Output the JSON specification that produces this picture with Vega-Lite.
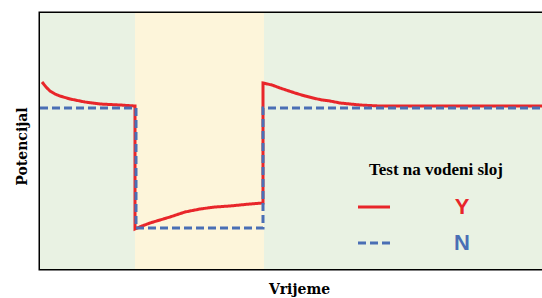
{
  "$schema": "https://vega.github.io/schema/vega-lite/v6.json",
  "autosize": {"type": "none"},
  "padding": {"left": 40, "top": 13, "right": 0, "bottom": 29},
  "width": 504,
  "height": 256,
  "background": "white",
  "config": {
    "view": {"stroke": "black", "strokeWidth": 3},
    "axis": {"grid": false, "ticks": false, "labels": false, "domain": false}
  },
  "datasets": {
    "bands": [
      {"start": 0, "end": 95, "phase": "green"},
      {"start": 95, "end": 224, "phase": "yellow"},
      {"start": 224, "end": 504, "phase": "green"}
    ],
    "lines": [
      {"series": "Y", "i": 1, "t": 2, "v": 187},
      {"series": "Y", "i": 2, "t": 6, "v": 182},
      {"series": "Y", "i": 3, "t": 10, "v": 178},
      {"series": "Y", "i": 4, "t": 15, "v": 175},
      {"series": "Y", "i": 5, "t": 20, "v": 173},
      {"series": "Y", "i": 6, "t": 30, "v": 170},
      {"series": "Y", "i": 7, "t": 45, "v": 167},
      {"series": "Y", "i": 8, "t": 60, "v": 165},
      {"series": "Y", "i": 9, "t": 80, "v": 164},
      {"series": "Y", "i": 10, "t": 95, "v": 163},
      {"series": "Y", "i": 11, "t": 95, "v": 40},
      {"series": "Y", "i": 12, "t": 102, "v": 43},
      {"series": "Y", "i": 13, "t": 110, "v": 46},
      {"series": "Y", "i": 14, "t": 120, "v": 49},
      {"series": "Y", "i": 15, "t": 130, "v": 52},
      {"series": "Y", "i": 16, "t": 145, "v": 57},
      {"series": "Y", "i": 17, "t": 160, "v": 60},
      {"series": "Y", "i": 18, "t": 175, "v": 62},
      {"series": "Y", "i": 19, "t": 190, "v": 63},
      {"series": "Y", "i": 20, "t": 210, "v": 65},
      {"series": "Y", "i": 21, "t": 223, "v": 66},
      {"series": "Y", "i": 22, "t": 223, "v": 186},
      {"series": "Y", "i": 23, "t": 232, "v": 184},
      {"series": "Y", "i": 24, "t": 240, "v": 181},
      {"series": "Y", "i": 25, "t": 255, "v": 176},
      {"series": "Y", "i": 26, "t": 265, "v": 173},
      {"series": "Y", "i": 27, "t": 273, "v": 171},
      {"series": "Y", "i": 28, "t": 282, "v": 169},
      {"series": "Y", "i": 29, "t": 290, "v": 168},
      {"series": "Y", "i": 30, "t": 300, "v": 166},
      {"series": "Y", "i": 31, "t": 320, "v": 164},
      {"series": "Y", "i": 32, "t": 340, "v": 163},
      {"series": "Y", "i": 33, "t": 400, "v": 163},
      {"series": "Y", "i": 34, "t": 504, "v": 163},
      {"series": "N", "i": 1, "t": 0, "v": 161},
      {"series": "N", "i": 2, "t": 96, "v": 161},
      {"series": "N", "i": 3, "t": 96, "v": 41},
      {"series": "N", "i": 4, "t": 223, "v": 41},
      {"series": "N", "i": 5, "t": 223, "v": 161},
      {"series": "N", "i": 6, "t": 504, "v": 161}
    ],
    "keys": [
      {"series": "Y", "from": 318, "to": 350, "v": 62, "label": "Y", "lt": 422},
      {"series": "N", "from": 318, "to": 350, "v": 26, "label": "N", "lt": 422}
    ],
    "heading": [
      {"text": "Test na vodeni sloj", "t": 396, "v": 99}
    ]
  },
  "layer": [
    {
      "data": {"name": "bands"},
      "mark": {"type": "rect"},
      "encoding": {
        "x": {"field": "start", "type": "quantitative", "scale": {"domain": [0, 504], "nice": false, "zero": false}, "axis": {"title": "Vrijeme", "titleFont": "DejaVu Serif", "titleFontWeight": "bold", "titleFontSize": 14, "titleColor": "black", "titleX": 259, "titleY": 24, "titleBaseline": "alphabetic", "titleAlign": "center"}},
        "x2": {"field": "end"},
        "color": {"field": "phase", "type": "nominal", "scale": {"domain": ["green", "yellow"], "range": ["#e9f2e3", "#fdf5da"]}, "legend": null}
      }
    },
    {
      "data": {"name": "lines"},
      "mark": {"type": "line", "strokeWidth": 3, "clip": true},
      "encoding": {
        "x": {"field": "t", "type": "quantitative"},
        "y": {"field": "v", "type": "quantitative", "scale": {"domain": [0, 256], "nice": false, "zero": false}, "axis": {"title": "Potencijal", "titleFont": "DejaVu Serif", "titleFontWeight": "bold", "titleFontSize": 14, "titleColor": "black", "titleX": -14, "titleY": 133, "titleBaseline": "alphabetic", "titleAlign": "center", "titleAngle": -90}},
        "order": {"field": "i", "type": "quantitative"},
        "stroke": {"field": "series", "type": "nominal", "scale": {"domain": ["Y", "N"], "range": ["#e8262a", "#4a6fb5"]}, "legend": null},
        "strokeDash": {"field": "series", "type": "nominal", "scale": {"domain": ["Y", "N"], "range": [[1, 0], [8, 4]]}, "legend": null}
      }
    },
    {
      "data": {"name": "keys"},
      "mark": {"type": "rule", "strokeWidth": 3},
      "encoding": {
        "x": {"field": "from", "type": "quantitative"},
        "x2": {"field": "to"},
        "y": {"field": "v", "type": "quantitative"},
        "stroke": {"field": "series", "type": "nominal", "legend": null},
        "strokeDash": {"field": "series", "type": "nominal", "legend": null}
      }
    },
    {
      "data": {"name": "keys"},
      "mark": {"type": "text", "font": "Liberation Sans", "fontWeight": "bold", "fontSize": 22, "align": "center", "baseline": "middle"},
      "encoding": {
        "x": {"field": "lt", "type": "quantitative"},
        "y": {"field": "v", "type": "quantitative"},
        "text": {"field": "label"},
        "fill": {"field": "series", "type": "nominal", "scale": {"domain": ["Y", "N"], "range": ["#e8262a", "#4a6fb5"]}, "legend": null}
      }
    },
    {
      "data": {"name": "heading"},
      "mark": {"type": "text", "font": "Liberation Serif", "fontWeight": "bold", "fontSize": 17, "align": "center", "baseline": "middle", "color": "black"},
      "encoding": {
        "x": {"field": "t", "type": "quantitative"},
        "y": {"field": "v", "type": "quantitative"},
        "text": {"field": "text"}
      }
    }
  ]
}
